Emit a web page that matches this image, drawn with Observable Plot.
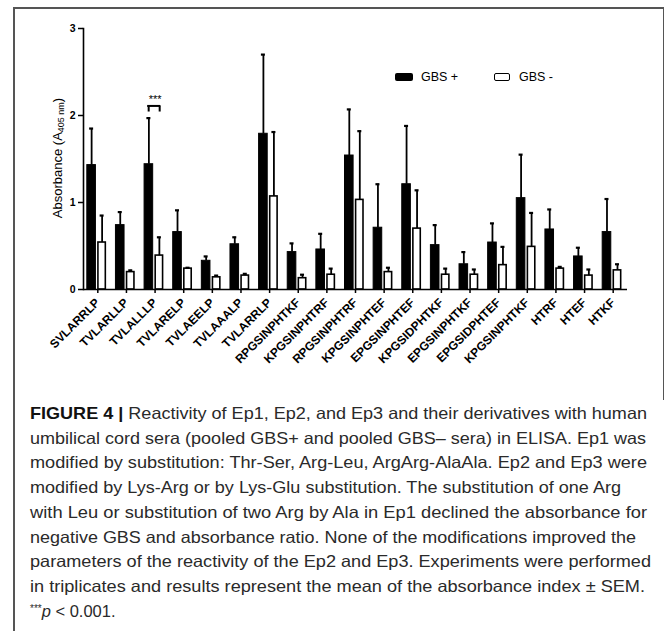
<!DOCTYPE html>
<html>
<head>
<meta charset="utf-8">
<script src="https://cdn.jsdelivr.net/npm/d3@7"></script>
<script src="https://cdn.jsdelivr.net/npm/@observablehq/plot@0.6"></script>
<style>
  html, body { margin: 0; padding: 0; background: #fff; }
  #wrap { position: relative; width: 672px; height: 631px; overflow: hidden; background: #fff; font-family: "Liberation Sans", Arial, Helvetica, sans-serif; }
  #chart { position: absolute; left: 0; top: 0; }
  .bline { position: absolute; background: #555; }
  #ylabel { position: absolute; left: 57px; top: 158px; transform: translate(-50%, -50%) rotate(-90deg); white-space: nowrap; font-size: 13px; color: #000; }
  #ylabel sub { font-size: 9px; vertical-align: -2px; line-height: 0; }
  .leg { position: absolute; font-size: 12.5px; color: #000; line-height: 1; white-space: nowrap; }
  .swatch { position: absolute; box-sizing: border-box; border-radius: 2px; }
  #caption { position: absolute; left: 0; top: 400px; }
</style>
</head>
<body>
<div id="wrap">
  <div id="chart"></div>
  <div class="bline" style="left:13px; top:7px; width:651px; height:1.5px;"></div>
  <div class="bline" style="left:13px; top:7px; width:1.5px; height:624px;"></div>
  <div class="bline" style="left:662.5px; top:7px; width:1.5px; height:393px;"></div>
  <div id="ylabel">Absorbance (A<sub>405 nm</sub>)</div>
  <div class="swatch" style="left:395px; top:73px; width:18px; height:8px; background:#000;"></div>
  <div class="leg" style="left:421px; top:70.5px;">GBS +</div>
  <div class="swatch" style="left:494px; top:73px; width:16px; height:8px; background:#fff; border:1.5px solid #000;"></div>
  <div class="leg" style="left:519px; top:70.5px;">GBS -</div>
  <svg id="caption" width="672" height="231"></svg>
</div>
<script>
// ---- data ----
const categories = ["SVLARRLP","TVLARLLP","TVLALLLP","TVLARELP","TVLAEELP","TVLAAALP","TVLARRLP",
  "RPGSINPHTKF","KPGSINPHTRF","RPGSINPHTRF","KPGSINPHTEF","EPGSINPHTEF","KPGSIDPHTKF",
  "EPGSINPHTKF","EPGSIDPHTEF","KPGSINPHTKF","HTRF","HTEF","HTKF"];
const gbsPosMean = [1.43, 0.74, 1.44, 0.66, 0.33, 0.52, 1.79, 0.43, 0.46, 1.54, 0.71, 1.21, 0.51, 0.29, 0.54, 1.05, 0.69, 0.38, 0.66];
const gbsPosSem  = [0.42, 0.15, 0.53, 0.25, 0.05, 0.08, 0.91, 0.10, 0.18, 0.53, 0.50, 0.67, 0.23, 0.14, 0.22, 0.50, 0.23, 0.10, 0.38];
const gbsNegMean = [0.54, 0.20, 0.39, 0.24, 0.14, 0.16, 1.07, 0.13, 0.17, 1.03, 0.20, 0.70, 0.17, 0.17, 0.28, 0.49, 0.24, 0.16, 0.22];
const gbsNegSem  = [0.31, 0.02, 0.21, 0.01, 0.02, 0.02, 0.74, 0.04, 0.07, 0.79, 0.05, 0.44, 0.07, 0.06, 0.21, 0.39, 0.02, 0.07, 0.07];
const yTicks = [0, 1, 2, 3];
const significance = [{category: "TVLALLLP", y: 2.11, base: 2.04, label: "***"}];
const captionLines = [
  "Reactivity of Ep1, Ep2, and Ep3 and their derivatives with human",
  "umbilical cord sera (pooled GBS+ and pooled GBS\u2013 sera) in ELISA. Ep1 was",
  "modified by substitution: Thr-Ser, Arg-Leu, ArgArg-AlaAla. Ep2 and Ep3 were",
  "modified by Lys-Arg or by Lys-Glu substitution. The substitution of one Arg",
  "with Leu or substitution of two Arg by Ala in Ep1 declined the absorbance for",
  "negative GBS and absorbance ratio. None of the modifications improved the",
  "parameters of the reactivity of the Ep2 and Ep3. Experiments were performed",
  "in triplicates and results represent the mean of the absorbance index \u00b1 SEM."
];

const pos = categories.map((c, i) => ({category: c, mean: gbsPosMean[i], sem: gbsPosSem[i]}));
const neg = categories.map((c, i) => ({category: c, mean: gbsNegMean[i], sem: gbsNegSem[i]}));

// ---- layout ----
const W = 672, H = 400, mL = 83, mR = 45, mT = 28, mB = 111;
const half = (W - mL - mR) / categories.length / 2; // half band width
const posC = -6.2, negC = 4.3;                     // bar centre offsets from tick
const posHalf = 4.3, negHalf = 3.7, capHalf = 2;

const chart = Plot.plot({
  width: W, height: H,
  marginLeft: mL, marginRight: mR, marginTop: mT, marginBottom: mB,
  style: {fontFamily: "'Liberation Sans', Arial, Helvetica, sans-serif", color: "#000", background: "transparent", overflow: "visible"},
  x: {domain: categories, padding: 0, round: false, label: null},
  y: {domain: [0, 3], label: null},
  marks: [
    Plot.barY(pos, {x: "category", y: "mean", fill: "#000", stroke: "#000", strokeWidth: 1,
      insetLeft: half + posC - posHalf, insetRight: half - posC - posHalf}),
    Plot.barY(neg, {x: "category", y: "mean", fill: "#fff", stroke: "#000", strokeWidth: 1.6,
      insetLeft: half + negC - negHalf, insetRight: half - negC - negHalf}),
    Plot.ruleX(pos, {x: "category", y1: "mean", y2: d => d.mean + d.sem, dx: posC, strokeWidth: 1.8}),
    Plot.ruleX(neg, {x: "category", y1: "mean", y2: d => d.mean + d.sem, dx: negC, strokeWidth: 1.8}),
    Plot.tickY(pos, {x: "category", y: d => d.mean + d.sem, strokeWidth: 2.2,
      insetLeft: half + posC - capHalf, insetRight: half - posC - capHalf}),
    Plot.tickY(neg, {x: "category", y: d => d.mean + d.sem, strokeWidth: 2.2,
      insetLeft: half + negC - capHalf, insetRight: half - negC - capHalf}),
    // significance bracket
    Plot.tickY(significance, {x: "category", y: "y", strokeWidth: 2, insetLeft: half - 7.4, insetRight: half - 5.6}),
    Plot.ruleX(significance, {x: "category", y1: "base", y2: "y", dx: -6.4, strokeWidth: 2}),
    Plot.ruleX(significance, {x: "category", y1: "base", y2: "y", dx: 4.6, strokeWidth: 2}),
    Plot.text(significance, {x: "category", y: "y", text: "label", dx: 0, dy: -6, fontSize: 11, textAnchor: "middle"}),
    // axes
    Plot.ruleY([0], {strokeWidth: 1.6}),
    Plot.frame({anchor: "left", strokeWidth: 1.6}),
    Plot.axisY({ticks: yTicks, tickFormat: "d", tickSize: 5, tickPadding: 3, strokeWidth: 1.5,
      fontSize: 10.5, fontWeight: "bold", label: null}),
    Plot.axisX({tickSize: 4, tickPadding: 7, strokeWidth: 1.5, tickRotate: -45,
      fontSize: 12, fontWeight: "bold", label: null})
  ]
});
document.getElementById("chart").appendChild(chart);

// ---- caption ----
const cap = d3.select("#caption");
const lineEnds = [647, 646, 647, 621, 647, 636, 651, 645];
const x0 = 30, base0 = 19, lh = 24.7;
const fs = 16.5;
captionLines.forEach((s, i) => {
  const t = cap.append("text")
    .attr("x", x0).attr("y", base0 + i * lh)
    .attr("font-family", "'Liberation Sans', Arial, Helvetica, sans-serif")
    .attr("font-size", fs).attr("fill", "#2a2a2a")
    .attr("textLength", lineEnds[i] - x0).attr("lengthAdjust", "spacingAndGlyphs");
  if (i === 0) {
    t.append("tspan").attr("font-weight", "bold").attr("fill", "#111").text("FIGURE 4 | ");
  }
  t.append("tspan").text(s);
});
const last = cap.append("text")
  .attr("x", x0).attr("y", base0 + 8 * lh)
  .attr("font-family", "'Liberation Sans', Arial, Helvetica, sans-serif")
  .attr("font-size", fs).attr("fill", "#2a2a2a");
last.append("tspan").attr("font-size", 10).attr("dy", -5).text("***");
last.append("tspan").attr("font-style", "italic").attr("dy", 5).text("p");
last.append("tspan").text(" < 0.001.");
</script>
</body>
</html>
